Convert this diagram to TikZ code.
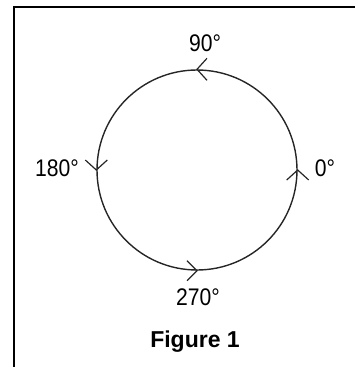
\documentclass[tikz,border=0pt]{standalone}
\usepackage{fontspec}
\setmainfont{Liberation Sans}
\newcommand{\narrowtxt}[1]{\scalebox{0.88}[1]{#1}}
\begin{document}
\begin{tikzpicture}[x=1pt,y=-1pt,
  lbl/.style={inner sep=0pt, font=\fontsize{24}{28}\selectfont},
  ring/.style={circle, draw=black!85, line width=1.4pt, minimum size=200pt, inner sep=0pt},
  barb/.style={draw=black!85, line width=1.2pt},
  frameline/.style={line width=2.5pt, line cap=rect}]
\useasboundingbox (0,0) rectangle (354,367);
% frame (left and top only)
\coordinate (fbl) at (14,368);
\coordinate (ftl) at (14,7);
\coordinate (ftr) at (355,7);
\draw[frameline] (fbl) -- (ftl) -- (ftr);
% circle
\node[ring] (c) at (197,170) {};
% arrows (counterclockwise)
\draw[barb] (c.north) ++(10,-11) -- (c.north) -- ++(10,11);
\draw[barb] (c.west) ++(-11,-10) -- (c.west) -- ++(11,-10);
\draw[barb] (c.south) ++(-10,-10) -- (c.south) -- ++(-10,10);
\draw[barb] (c.east) ++(-11,10) -- (c.east) -- ++(11,10);
% labels
\node[lbl] (l90) at (205,43) {\narrowtxt{90°}};
\node[lbl] (l180) at (57,168) {\narrowtxt{180°}};
\node[lbl] (l0) at (325,168) {\narrowtxt{0°}};
\node[lbl] (l270) at (198,297) {\narrowtxt{270°}};
\node[lbl, font=\fontsize{23}{27}\selectfont\bfseries] (fig) at (195,342) {Figure 1};
\end{tikzpicture}
\end{document}
